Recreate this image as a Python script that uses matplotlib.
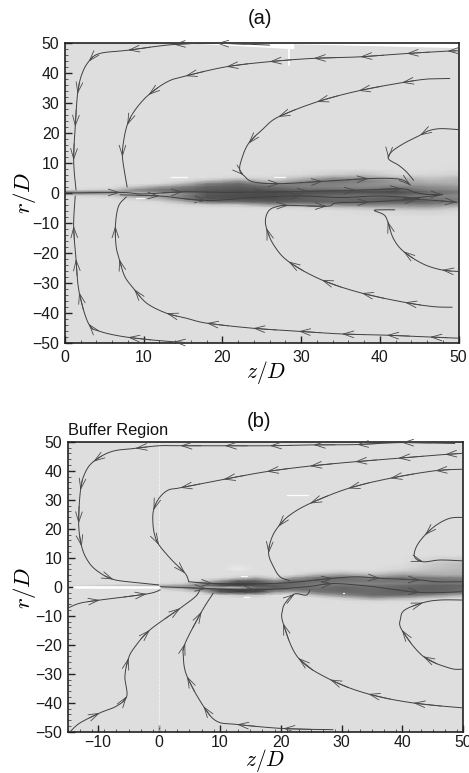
import numpy as np
import matplotlib
matplotlib.use("Agg")
import matplotlib.pyplot as plt
from matplotlib.colors import Normalize

plt.rcParams['font.family'] = ['Liberation Sans', 'DejaVu Sans']
plt.rcParams['mathtext.fontset'] = 'cm'

W, H = 469, 773

# ---------- grey level fields: one row per z station, one column per r level ----------
BG = .87
field_r = [50, 11, 8, 6, 5, 4, 3, 2, 1, 0.3, -0.3, -1, -2, -3, -4, -5, -6, -8, -11, -50]

field_a_z = [0, 6, 9, 12, 15, 18, 22, 26, 30, 34, 38, 42, 46, 50]
field_a = [
 [.87,.87,.87,.87,.87,.87,.87,.55,.55,.87,.87,.87,.87,.87,.87,.87],
 [.87,.87,.87,.87,.87,.87,.80,.55,.60,.80,.87,.87,.87,.87,.87,.87],
 [.87,.87,.87,.87,.87,.78,.55,.60,.80,.60,.82,.87,.87,.87,.87,.87],
 [.87,.87,.87,.87,.85,.62,.45,.50,.72,.62,.70,.85,.87,.87,.87,.87],
 [.87,.87,.87,.85,.72,.50,.42,.40,.55,.50,.50,.70,.85,.87,.87,.87],
 [.87,.87,.87,.75,.50,.40,.36,.33,.35,.33,.33,.45,.80,.87,.87,.87],
 [.87,.87,.83,.60,.42,.36,.33,.30,.32,.30,.32,.42,.78,.87,.87,.87],
 [.87,.87,.85,.78,.55,.42,.35,.30,.30,.30,.30,.36,.60,.85,.87,.87],
 [.87,.85,.75,.60,.50,.50,.42,.32,.33,.36,.36,.38,.62,.84,.87,.87],
 [.87,.80,.60,.45,.50,.52,.42,.32,.36,.42,.42,.38,.55,.80,.87,.87],
 [.87,.75,.60,.50,.55,.55,.42,.30,.38,.45,.40,.40,.50,.75,.85,.87],
 [.87,.84,.72,.62,.60,.50,.38,.30,.35,.42,.36,.36,.55,.70,.84,.87],
 [.87,.84,.78,.72,.65,.55,.50,.42,.42,.50,.45,.40,.52,.68,.82,.87],
 [.86,.82,.74,.70,.68,.60,.55,.48,.50,.55,.50,.50,.62,.78,.85,.87],
]

field_b_z = [-15, 0, 4, 7, 10, 13, 16, 19, 22, 26, 30, 35, 40, 45, 50]
field_b = [
 [.87,.87,.87,.87,.87,.87,.87,.87,.87,.87,.87,.87,.87,.87,.87,.87],
 [.87,.87,.87,.87,.87,.87,.87,.70,.70,.87,.87,.87,.87,.87,.87,.87],
 [.87,.87,.87,.87,.87,.87,.82,.60,.60,.75,.87,.87,.87,.87,.87,.87],
 [.87,.87,.87,.87,.87,.84,.60,.50,.65,.50,.80,.87,.87,.87,.87,.87],
 [.87,.87,.87,.87,.86,.65,.35,.30,.70,.30,.35,.84,.87,.87,.87,.87],
 [.87,.92,.87,.87,.80,.40,.25,.25,.75,.22,.28,.78,.87,.87,.87,.87],
 [.87,.87,.87,.86,.68,.40,.30,.32,.45,.25,.30,.80,.87,.87,.87,.87],
 [.87,.87,.87,.87,.85,.58,.42,.36,.36,.40,.62,.87,.88,.87,.87,.87],
 [.87,.87,.87,.85,.62,.42,.40,.42,.45,.42,.68,.90,.87,.87,.87,.87],
 [.87,.87,.85,.70,.45,.42,.48,.48,.45,.42,.48,.72,.87,.87,.87,.87],
 [.87,.87,.80,.62,.42,.45,.50,.45,.40,.40,.42,.55,.80,.87,.87,.87],
 [.87,.87,.84,.72,.52,.45,.52,.45,.45,.42,.42,.42,.62,.84,.87,.87],
 [.87,.84,.75,.62,.45,.45,.50,.42,.40,.38,.38,.42,.70,.85,.87,.87],
 [.80,.76,.72,.68,.48,.45,.45,.38,.38,.38,.38,.55,.80,.86,.87,.87],
 [.74,.72,.70,.68,.52,.45,.48,.40,.42,.42,.45,.70,.86,.87,.87,.87],
]

# ---------- streamlines in flow direction: z, r, indices carrying an arrow head ----------
lines_a = [
 ([26,19.3,13.8,8,4.4,3,2.1,1.6,1.3,1.1,1.4],
  [49.2,49.8,49.4,47.5,46.4,43.7,39.2,33,22,10.9,1],
  [0,1,2,3,5,7,8,9]),
 ([17.6,13.8,8,4.4,3,1.8,1.4,1.1,1.3],
  [-50,-49.5,-48,-46,-43.5,-33,-22,-11,-1],
  [1,2,4,5,6,7]),
 ([50,48.6,43.4,37.5,31.6,26,20.5,15.3,13,10.6,8.9,7.9,7.4,7.3,7.6,7.9],
  [47.3,47.2,46.4,45.3,44.8,43.7,42,38.9,37,32.6,27.6,22.6,16.4,12,6.4,2],
  [1,2,3,4,5,6,7,9,11,13]),
 ([50,46.4,40.9,35.2,29.7,23.9,18,15.5,12.9,10.4,8.8,7.6,6.9,6.5,6.4,6.8,7.8],
  [-48.3,-47.9,-47.3,-46.9,-46,-45,-43.3,-41.7,-40,-36.7,-32,-27.8,-22,-17.8,-11,-4.4,-1.3],
  [1,2,3,4,5,6,8,10,12,14]),
 ([48.9,46,42.8,37.3,32,27.1,25.2,23.3,22.4,22.2,22.7,23.9,27.3,32.8,38.6,41.7,43,43.9],
  [38.1,37.9,36.7,34,30.3,25.3,21.4,16.4,10.9,7.6,5.9,3.7,3.1,3.9,4.8,4.8,4.2,2.6],
  [2,3,4,5,7,10,12,13,14,17]),
 ([50,47.7,46.2,45.1,43,41.5,41.1,42.4,43.4,44.3],
  [21.1,21.4,20.7,19.2,16.4,13.7,11.4,9.2,7,4.2],
  [3,6]),
 ([0,7,10,15,20,25.6,31,37,42.8,44.3,46,48,45,43],
  [0,0.2,-0.3,0.4,0.2,0.3,0.6,0.9,1.4,0.3,-0.5,-0.5,-1.5,-2],
  [1,3,5,6,7,8,11]),
 ([49.2,46.8,43.2,37.7,32.6,28.4,26.5,25.6,25.5,26,27.1,28.4,33.3,34.5,38.7,44.7,49.8],
  [-38,-37.8,-36.4,-33.3,-28.9,-22.8,-17.2,-11.7,-8.3,-5.6,-4.4,-4.1,-4.4,-3.3,-3,-2.2,-3.1],
  [2,3,4,5,7,11,12,14,15,16]),
 ([50,47.9,45.5,43,41.7,41,40.5,39.3,40.5,41.9],
  [-26.1,-25.6,-23.6,-19.4,-15,-9.4,-7.2,-5.8,-5.6,-5.6],
  [1,3,5]),
 ([7,12,18,24,30,35,40,45],
  [-0.6,-1.0,-2.5,-1.5,-1,-1.5,-1,-1.8],
  [1,2,4]),
]

lines_b = [
 ([48.6,39.9,32.5,25.4,18.2,10.8,3.5,0,-3.9,-7.8,-10.8,-12.2,-12.9,-13.2,-12.7,-11.6,-10,-7.5,-3.7,0],
  [49.4,49.7,49,48.9,48.6,48.6,48.6,48.6,47.7,46.6,43.1,39,33.3,21.8,13.8,8.6,5.2,2.5,1.4,0.6],
  [1,2,3,4,5,6,8,10,12,13,14,17]),
 ([50,47,39.3,32.2,24.8,17.7,10.6,3.5,1.5,0,-0.9,-1,-0.7,0,2.1,4.3,4.9],
  [46,45.6,44.3,43.1,41.6,39.7,37,34.1,33.3,30.5,26.4,21.8,17.8,14.4,9.2,4.6,1.7],
  [1,2,3,4,5,6,7,10,13,15]),
 ([50,45.4,38,31.1,24.8,21.5,19.6,18.5,18,18.8,19.9,21.5],
  [40.5,40,37.4,33.9,28.7,24.7,20.7,16.7,11.5,6.9,3.4,2.1],
  [1,2,3,4,6,8]),
 ([50,47.8,45.6,43.7,42.3,42,43.4,46.2,50],
  [23.9,23.6,21.3,17.8,13.8,10.3,8.6,9.2,8.9],
  [3,6]),
 ([4.9,8.9,16,22,28.6,32.5,36.3,42.9,45.6,50],
  [1.7,1.1,1,1.5,2.9,3.4,2.9,2.3,1.7,1.7],
  [1,4,6,7]),
 ([0.2,7.8,16,24.3,28.6,35.2,42.9,50],
  [0,-0.6,-1.1,0,1.1,0,-2,-1.7],
  [1,2,4,6]),
 ([-15,-13,-9.7,-2,0.2],
  [-7.4,-5.7,-4.6,-2.5,-1.1],
  [2,3]),
 ([-14.6,-13,-9.7,-7,-5.3,-5.6,-5,-3.9,-1.5,3.5,6,6.7],
  [-50,-47,-43.5,-41.2,-37.8,-31,-24.6,-20.6,-14.9,-7.4,-3.4,-1.1],
  [2,4,6,8,9]),
 ([28.6,20.4,12.8,9.5,7.3,4.6,4,4.3,7,8.9],
  [-49.3,-48.9,-47.5,-46.4,-41.2,-30.9,-24,-19.5,-8.6,-2.3],
  [1,2,4,5,7,8]),
 ([50,41.8,34.4,28.1,22.9,20.4,20.3,20.9,22.3,24.2,24.8],
  [-41.8,-40.1,-37,-32,-24.6,-12.6,-8,-5.2,-2.5,-2.9,-1.1],
  [0,1,2,3,4,5,8]),
 ([50,47.8,43.4,39.9,39.7,40.4,43.4,46.2,50],
  [-28.4,-28.1,-24,-14.9,-10.9,-8,-5.5,-4.6,-4.6],
  [2,3,6]),
]

ticks_a_x = [0, 10, 20, 30, 40, 50]
ticks_b_x = [-10, 0, 10, 20, 30, 40, 50]
ticks_y = [-50, -40, -30, -20, -10, 0, 10, 20, 30, 40, 50]


def smooth(z, r, n=12):
    p = np.column_stack([z, r]).astype(float)
    p = np.vstack([p[0], p, p[-1]])
    out = []
    t = np.linspace(0, 1, n, endpoint=False)[:, None]
    for i in range(1, len(p) - 2):
        a, b, c, d = p[i - 1], p[i], p[i + 1], p[i + 2]
        out.append(0.5 * (2 * b + (c - a) * t + (2 * a - 5 * b + 4 * c - d) * t ** 2
                          + (3 * b - a - 3 * c + d) * t ** 3))
    out.append(p[-2][None, :])
    return np.vstack(out)


def axes_px(l, t, r, b):
    return fig.add_axes([l / W, 1 - b / H, (r - l) / W, (b - t) / H])


def draw(ax, fz, fv, lines, xlim, xt, xpad):
    core = np.array(fv).T
    grid = np.pad(core, ((2, 2), (0, 0)), constant_values=BG)
    ax.pcolormesh(fz, field_r, grid, shading='gouraud', cmap='gray',
                  norm=Normalize(0, 1), rasterized=True)
    ink = '#404040'
    for z, r, idx in lines:
        c = smooth(z, r)
        ax.plot(c[:, 0], c[:, 1], color=ink, lw=0.7, zorder=3, solid_capstyle='round')
        for i in idx:
            j = min(i * 12, len(c) - 1)
            k = max(j - 6, 0)
            if j == k:
                continue
            ax.annotate('', xy=c[j], xytext=c[k], zorder=4,
                        arrowprops=dict(arrowstyle='->,head_length=0.62,head_width=0.2',
                                        color='#4a4a4a', lw=0.6, shrinkA=0, shrinkB=0,
                                        mutation_scale=12))
    ax.set_xlim(*xlim)
    ax.set_ylim(-50, 50)
    ax.set_xticks(xt)
    ax.set_yticks(ticks_y)
    ax.set_xticks(np.arange(xlim[0], xlim[1] + .1, 2), minor=True)
    ax.set_yticks(np.arange(-50, 51, 2), minor=True)
    ax.tick_params(which='major', direction='in', length=5, width=1.0,
                   labelsize=11.4, color='#222222', labelcolor='#1a1a1a',
                   top=False, right=False)
    ax.tick_params(axis='x', which='major', pad=xpad)
    ax.tick_params(axis='y', which='major', pad=4)
    ax.tick_params(which='minor', direction='in', length=2.5, width=0.6,
                   color='#444444', top=False, right=False)
    for s in ax.spines.values():
        s.set_linewidth(1.2)
        s.set_color('#222222')


def labels(ax, xpx, ypx, rpx, rypx):
    ax.set_xlabel(r'$z/D$', fontsize=15.5, va='center')
    ax.xaxis.set_label_coords(xpx / W, 1 - ypx / H, transform=fig.transFigure)
    ax.set_ylabel(r'$r/D$', fontsize=16.5, va='center')
    ax.yaxis.set_label_coords(rpx / W, 1 - rypx / H, transform=fig.transFigure)


fig = plt.figure(figsize=(W / 100, H / 100), dpi=100, facecolor='white')

a = axes_px(65, 42.7, 458.5, 343.3)
draw(a, field_a_z, field_a, lines_a, (0, 50), ticks_a_x, 5)
labels(a, 266, 373, 24, 193)
a.fill([17.5, 29, 29], [50, 50, 48.3], color='white', zorder=2)
a.fill([29, 50, 50], [50, 50, 48.6], color='white', zorder=2)
a.plot([28.4, 28.4], [42.5, 48.5], color='white', lw=1.2, zorder=2)
for z0, z1, r0 in [(13.5, 15.5, 5.4), (26.5, 28, 5.4), (9, 10, -1.6), (16.7, 16.9, -3)]:
    a.plot([z0, z1], [r0, r0], color='white', lw=0.9, alpha=.9, zorder=2)

b = axes_px(67.7, 441.7, 463.3, 731.7)
draw(b, field_b_z, field_b, lines_b, (-15, 50), ticks_b_x, 2.5)
labels(b, 265, 760.5, 24, 588)
b.plot([-14, 0], [0, 0], color='white', lw=1.8, zorder=2)
b.plot([0, 0], [-50, 50], color='white', lw=0.6, alpha=.65, dashes=(4, 1), zorder=2)
for z0, z1, r0 in [(21, 24.5, 31.5), (13.5, 14.5, 3.6), (14, 14.8, -3.5), (30.2, 30.4, -2.2)]:
    b.plot([z0, z1], [r0, r0], color='white', lw=0.9, alpha=.9, zorder=2)

fig.text(260 / W, 1 - 18 / H, '(a)', ha='center', va='center', fontsize=14.5, color='#111111')
fig.text(259 / W, 1 - 421 / H, '(b)', ha='center', va='center', fontsize=14.5, color='#111111')
fig.text(68 / W, 1 - 430.5 / H, 'Buffer Region', ha='left', va='center', fontsize=11.8, color='#111111')

fig.savefig('out.png', dpi=100, facecolor='white')
